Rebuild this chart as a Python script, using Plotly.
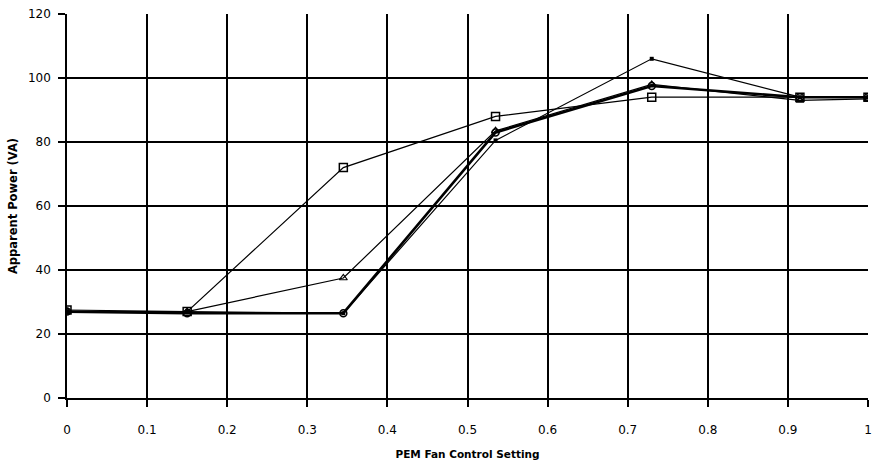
import plotly.graph_objects as go

# Fan control settings (x) and apparent power readings (VA) for each run
fan_setting = [0.0, 0.15, 0.345, 0.535, 0.73, 0.915, 1.0]

power_square = [27.5, 27.0, 72.0, 88.0, 94.0, 94.0, 94.0]
power_triangle = [27.0, 27.0, 37.5, 83.5, 98.0, 93.0, 93.5]
power_circle = [27.0, 26.5, 26.5, 83.0, 97.5, 94.0, 94.0]
power_dot = [27.0, 27.0, 26.5, 80.5, 106.0, 94.0, 94.0]

x_ticks = [0, 0.1, 0.2, 0.3, 0.4, 0.5, 0.6, 0.7, 0.8, 0.9, 1]
x_tick_text = ["0", "0.1", "0.2", "0.3", "0.4", "0.5", "0.6", "0.7", "0.8", "0.9", "1"]
y_ticks = [0, 20, 40, 60, 80, 100, 120]

fig = go.Figure()

fig.add_trace(go.Scatter(
    x=fan_setting, y=power_dot, mode="lines+markers",
    line=dict(color="black", width=1.2),
    marker=dict(symbol="square", size=4, color="black"),
))
fig.add_trace(go.Scatter(
    x=fan_setting, y=power_square, mode="lines+markers",
    line=dict(color="black", width=1.2),
    marker=dict(symbol="square-open", size=8, color="black", line=dict(width=1.5)),
))
fig.add_trace(go.Scatter(
    x=fan_setting, y=power_triangle, mode="lines+markers",
    line=dict(color="black", width=1.2),
    marker=dict(symbol="triangle-up-open", size=7, color="black", line=dict(width=1.2)),
))
fig.add_trace(go.Scatter(
    x=fan_setting, y=power_circle, mode="lines+markers",
    line=dict(color="black", width=2.6),
    marker=dict(symbol="circle-open", size=7, color="black", line=dict(width=1.5)),
))

tick_font = dict(family="DejaVu Sans, sans-serif", size=12, color="black")
title_family = "DejaVu Sans, sans-serif"

fig.update_layout(
    width=876, height=467,
    margin=dict(l=67, r=4, t=14, b=69),
    paper_bgcolor="white", plot_bgcolor="white",
    showlegend=False,
    font=tick_font,
    xaxis=dict(
        range=[0, 1], tickvals=x_ticks, ticktext=x_tick_text,
        showgrid=True, gridcolor="black", gridwidth=1.5,
        zeroline=False, showline=True, linecolor="black", linewidth=1.5,
        ticks="outside", ticklen=7, tickcolor="black", tickwidth=1.5,
        tickfont=tick_font, ticklabelstandoff=13,
        title=dict(text="<b>PEM Fan Control Setting</b>",
                   font=dict(family=title_family, size=10.5, color="black"),
                   standoff=14),
    ),
    yaxis=dict(
        range=[0, 120], tickvals=y_ticks,
        showgrid=True, gridcolor="black", gridwidth=1.5,
        zeroline=False, showline=True, linecolor="black", linewidth=1.5,
        ticks="outside", ticklen=7, tickcolor="black", tickwidth=1.5,
        tickfont=tick_font, ticklabelstandoff=5,
        title=dict(text="<b>Apparent Power (VA)</b>",
                   font=dict(family=title_family, size=11.5, color="black"),
                   standoff=8),
    ),
)

fig.write_html("out.html")
